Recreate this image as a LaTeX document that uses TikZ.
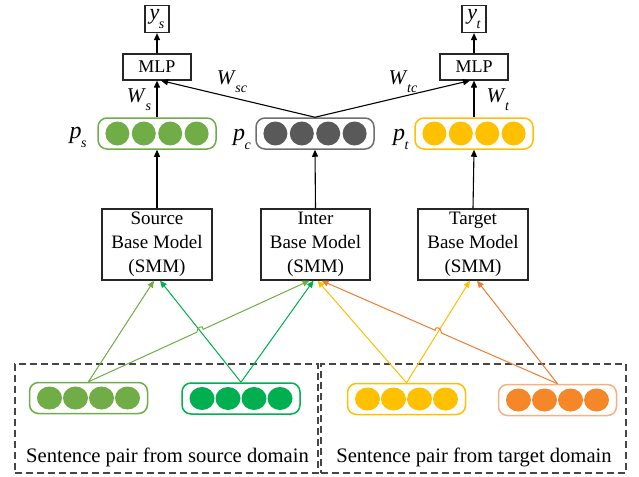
\documentclass[tikz,border=0pt]{standalone}
\usepackage{fontspec}
\setmainfont{Liberation Serif}
\usetikzlibrary{arrows.meta,calc}

\definecolor{lgreen}{RGB}{112,173,71}
\definecolor{dgreen}{RGB}{0,176,80}
\definecolor{gold}{RGB}{255,192,0}
\definecolor{orfill}{RGB}{245,135,40}
\definecolor{orline}{RGB}{237,125,49}
\definecolor{orborder}{RGB}{244,177,131}
\definecolor{cgray}{RGB}{89,89,89}
\definecolor{cgrayb}{RGB}{110,110,110}
\definecolor{dashgray}{RGB}{70,70,70}

% italic symbol with an italic subscript
\newcommand{\itsub}[2]{\textit{#1}\kern-0.5pt\raisebox{-0.38em}{\fontsize{14}{14}\selectfont\textit{#2}}}

% a rounded vector box holding four filled dots
\newcommand{\vecrow}[8]{%
  \node[vec, draw=#4] (#1) at (#2,#3) {};
  \foreach \k in {-1.5,-0.5,0.5,1.5}
    \fill[#5] ($(#1.center)+(\k*#6,0)$) ellipse (#7 and #8);
}

\begin{document}
\begin{tikzpicture}[x=1pt,y=-1pt,
  box/.style={draw=black!85, line width=1.2pt, fill=white, inner sep=0pt,
    font=\fontsize{19}{24}\selectfont, align=center},
  vec/.style={rounded corners=9pt, line width=1.5pt, minimum width=118pt,
    minimum height=31pt, inner sep=0pt},
  tip/.style={-{Triangle[length=7pt,width=6pt]}},
  arr/.style={tip, line width=1.1pt, draw=black},
  carr/.style={tip, line width=1pt},
  dashbox/.style={draw=dashgray, line width=1.2pt, dash pattern=on 7pt off 4pt,
    inner sep=0pt},
  lab/.style={font=\fontsize{21}{24}\selectfont, inner sep=0pt},
  plab/.style={font=\fontsize{24}{26}\selectfont, inner sep=0pt},
  sent/.style={font=\fontsize{20.6}{24}\selectfont, inner sep=0pt}
]
\useasboundingbox (0,0) rectangle (639,476);

% ---------- outputs and classifiers ----------
\node[box, minimum width=24pt, minimum height=27pt, font=\fontsize{22}{24}\selectfont] (ys) at (157,19) {\itsub{y}{s}};
\node[box, minimum width=24pt, minimum height=27pt, font=\fontsize{22}{24}\selectfont] (yt) at (474,19) {\itsub{y}{t}};
\node[box, minimum width=68pt, minimum height=26pt, font=\fontsize{18}{22}\selectfont] (mlps) at (157,67) {MLP};
\node[box, minimum width=68pt, minimum height=26pt, font=\fontsize{18}{22}\selectfont] (mlpt) at (474,67) {MLP};

% ---------- domain representations ----------
\vecrow{ps}{157}{133.5}{lgreen}{lgreen}{26.4}{12}{12}
\vecrow{pc}{315}{133.5}{cgrayb}{cgray}{26.4}{12}{12}
\vecrow{pt}{474}{133.5}{gold}{gold}{26.4}{12}{12}

\node[plab] (lps) at (78,137) {\itsub{p}{s}};
\node[plab] (lpc) at (242,139) {\itsub{p}{c}};
\node[plab] (lpt) at (401,139) {\itsub{p}{t}};

\node[lab] (lws) at (139,100) {\itsub{W}{s}};
\node[lab] (lwsc) at (232,82) {\itsub{W}{sc}};
\node[lab] (lwtc) at (403,82) {\itsub{W}{tc}};
\node[lab] (lwt) at (498,100) {\itsub{W}{t}};

% ---------- base models ----------
\node[box, minimum width=110pt, minimum height=71pt] (sbm) at (157,244.5) {Source\\Base Model\\(SMM)};
\node[box, minimum width=109pt, minimum height=71pt] (ibm) at (315.5,244.5) {Inter\\Base Model\\(SMM)};
\node[box, minimum width=110pt, minimum height=71pt] (tbm) at (473,244.5) {Target\\Base Model\\(SMM)};

% ---------- upper connectors ----------
\draw[arr] (mlps.north) -- (ys.south);
\draw[arr] (mlpt.north) -- (yt.south);
\draw[arr] (ps.north) -- (mlps.south);
\draw[arr] (pt.north) -- (mlpt.south);
\draw[arr] (pc.north) -- ($(mlps.south)+(4,0)$);
\draw[arr] (pc.north) -- ($(mlpt.south)+(-4,0)$);
\draw[arr] (sbm.north) -- (ps.south);
\draw[arr] (ibm.north) -- (pc.south);
\draw[arr] (tbm.north) -- (pt.south);

% ---------- sentence pair regions ----------
\node[dashbox, minimum width=303pt, minimum height=109pt] (dsl) at (166.5,418.5) {};
\node[dashbox, minimum width=305pt, minimum height=109pt] (dsr) at (473.5,418.5) {};
\node[sent] (tsl) at (167.5,457) {Sentence pair from source domain};
\node[sent] (tsr) at (474,457) {Sentence pair from target domain};

\vecrow{va}{88.5}{398}{lgreen}{lgreen}{26}{12.5}{11.5}
\vecrow{vb}{241}{398.5}{dgreen}{dgreen}{26}{12.5}{11.5}
\vecrow{vc}{406.5}{399}{gold}{gold}{26}{12.5}{11.5}
\vecrow{vd}{557.5}{400}{orborder}{orfill}{26}{12.5}{11.5}

% ---------- end points on the base models ----------
\coordinate (sA) at ($(sbm.south)+(-3,0)$);
\coordinate (sB) at ($(sbm.south)+(3,0)$);
\coordinate (iA) at ($(ibm.south)+(-6,0)$);
\coordinate (iB) at ($(ibm.south)+(-2,0)$);
\coordinate (iC) at ($(ibm.south)+(2,0)$);
\coordinate (iD) at ($(ibm.south)+(6,0)$);
\coordinate (tA) at ($(tbm.south)+(-3,0)$);
\coordinate (tB) at ($(tbm.south)+(4,0)$);
\coordinate (aT) at (va.north);
\coordinate (bT) at (vb.north);
\coordinate (cT) at (vc.north);
\coordinate (dT) at (vd.north);

% crossing points where the long lines hop over
\coordinate (hx1) at (intersection of aT--iA and bT--sB);
\coordinate (hx2) at (intersection of dT--iD and cT--tA);
\coordinate (h1a) at ($(hx1)!3.5pt!(aT)$);
\coordinate (h1b) at ($(hx1)!3.5pt!(iA)$);
\coordinate (h2a) at ($(hx2)!3.5pt!(dT)$);
\coordinate (h2b) at ($(hx2)!3.5pt!(iD)$);

% ---------- lower connectors ----------
\draw[carr, draw=lgreen, fill=lgreen] (va.north) -- (sA);
\draw[carr, draw=dgreen, fill=dgreen] (vb.north) -- (sB);
\draw[carr, draw=dgreen, fill=dgreen] (vb.north) -- (iB);
\draw[carr, draw=gold, fill=gold] (vc.north) -- (iC);
\draw[carr, draw=gold, fill=gold] (vc.north) -- (tA);
\draw[carr, draw=orline, fill=orline] (vd.north) -- (tB);
\draw[carr, draw=lgreen] (va.north) -- (h1a)
  .. controls ($(h1a)+(0,-5)$) and ($(h1b)+(0,-5)$) .. (h1b) -- (iA);
\draw[carr, draw=orline] (vd.north) -- (h2a)
  .. controls ($(h2a)+(0,-5)$) and ($(h2b)+(0,-5)$) .. (h2b) -- (iD);
\end{tikzpicture}
\end{document}
